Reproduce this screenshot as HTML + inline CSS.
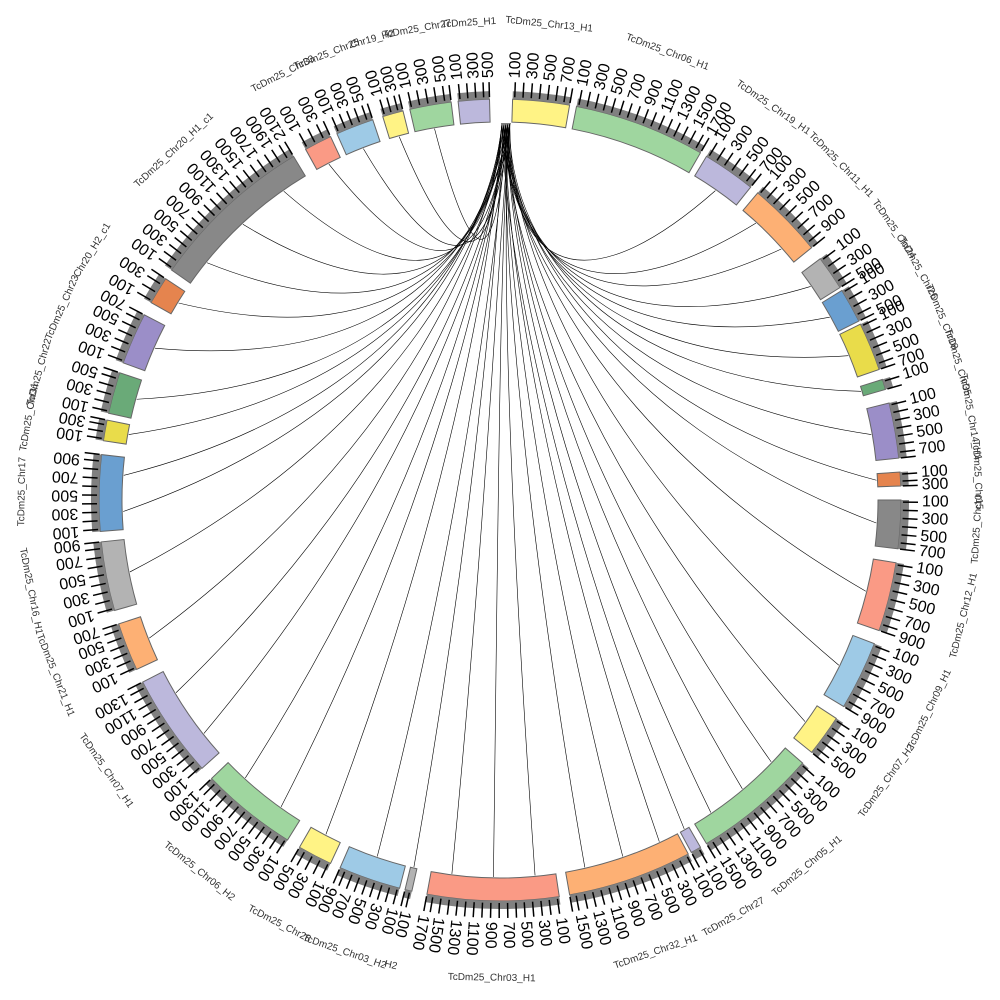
<!DOCTYPE html>
<html><head><meta charset="utf-8"><style>
html,body{margin:0;padding:0;background:#fff;}
svg{display:block;font-family:"Liberation Sans",sans-serif;}
</style></head><body>
<svg id="s" width="1000" height="1000" viewBox="0 0 1000 1000">
<g id="links" fill="none" stroke="#000" stroke-width="0.6"></g>
<g id="segs"></g>
<g id="ticks" stroke="#000" stroke-width="1.5"></g>
<g id="labs" font-size="10" fill="#333"></g>
</svg>
<script>
var NS="http://www.w3.org/2000/svg";
function P(r,a){a=a*Math.PI/180;return [500+r*Math.sin(a),500-r*Math.cos(a)];}
function arc(r1,r2,a1,a2){var p1=P(r2,a1),p2=P(r2,a2),p3=P(r1,a2),p4=P(r1,a1),l=(a2-a1)>180?1:0;
return "M"+p1+"A"+r2+","+r2+" 0 "+l+" 1 "+p2+"L"+p3+"A"+r1+","+r1+" 0 "+l+" 0 "+p4+"Z";}
function el(t,at,par){var e=document.createElementNS(NS,t);for(var k in at)e.setAttribute(k,at[k]);document.getElementById(par).appendChild(e);return e;}
var S=[[1.8,10,"#fff385","TcDm25_Chr13_H1"],[11,30,"#9fd69f","TcDm25_Chr06_H1"],[31,38.7,"#bcb8dc","TcDm25_Chr19_H1"],[40,51,"#fdb074","TcDm25_Chr11_H1"],
[53,58,"#b3b3b3","TcDm25_Chr24"],[58.5,63.5,"#6a9fd0","TcDm25_Chr26"],[64,71,"#e9dc4a","TcDm25_Chr18"],[72.5,74,"#6aaa78","TcDm25_Chr35"],
[76,84,"#9b8ec8","TcDm25_Chr14_H1"],[86,88,"#e5844e","TcDm25_Chr15"],[90,97,"#888888","TcDm25_Chr10"],[99,109,"#fa9a85","TcDm25_Chr12_H1"],
[111,121,"#9ecae6","TcDm25_Chr09_H1"],[123,129,"#fff385","TcDm25_Chr07_H2"],[131,149,"#9fd69f","TcDm25_Chr05_H1"],[150,151.5,"#bcb8dc","TcDm25_Chr27"],
[152,170,"#fdb074","TcDm25_Chr32_H1"],[171.5,190.5,"#fa9a85","TcDm25_Chr03_H1"],[192.7,193.7,"#b3b3b3","H2"],[194.5,203.5,"#9ecae6","TcDm25_Chr03_H2"],
[205,210,"#fff385","TcDm25_Chr28"],[212,226,"#9fd69f","TcDm25_Chr06_H2"],[228,243,"#bcb8dc","TcDm25_Chr07_H1"],[245,252,"#fdb074","TcDm25_Chr21_H1"],
[254,264,"#b3b3b3","TcDm25_Chr16_H1"],[265.5,276.5,"#6a9fd0","TcDm25_Chr17"],[278.5,281.5,"#e9dc4a","TcDm25_Chr31"],[282.5,288.5,"#6aaa78","TcDm25_Chr22"],
[290,297.5,"#9b8ec8","TcDm25_Chr23"],[299.5,303.5,"#e5844e","Chr20_H2_c1"],[305,329,"#888888","TcDm25_Chr20_H1_c1"],[331,335,"#fa9a85","TcDm25_Chr33"],
[336,341.5,"#9ecae6","TcDm25_Chr25"],[343,346,"#fff385","Chr19_H2"],[347,353,"#9fd69f","TcDm25_Chr27"],[354,358.5,"#bcb8dc","TcDm25_H1"]];
S.forEach(function(s,i){
 el("path",{d:arc(378,401,s[0],s[1]),fill:s[2],stroke:"#666","stroke-width":1},"segs");
 el("path",{d:arc(401,409,s[0],s[1]),fill:"#808080"},"segs");
 var n=Math.max(1,Math.round((s[1]-s[0])/1.2));
 for(var j=0;j<=n;j++){var a=s[0]+(s[1]-s[0])*j/n+0.3;if(a>s[1])a=s[1];var p=P(403,a),q=P(418,a);
  el("line",{x1:p[0],y1:p[1],x2:q[0],y2:q[1]},"ticks");
  if(j%2==0){var t=P(422,a),tx=el("text",{x:t[0],y:t[1],"font-size":16,fill:"#000","dominant-baseline":"middle",
   transform:"rotate("+(a-90)+" "+t[0]+" "+t[1]+")"},"labs");tx.textContent=(j*100+100)+"";}
 }
 var m=(s[0]+s[1])/2,lp=P(478,m),rot=m>90&&m<270?m-180:m;
 var t2=el("text",{x:lp[0],y:lp[1],"text-anchor":"middle","dominant-baseline":"middle",transform:"rotate("+rot+" "+lp[0]+" "+lp[1]+")"},"labs");
 t2.textContent=s[3];
 var k=Math.max(1,Math.round((s[1]-s[0])/7));
 if(i>1&&i<35)for(j=0;j<k;j++){var a2=s[0]+(s[1]-s[0])*(j+0.5)/k,src=P(377,a2),tgt=P(377,0.3+((i*7)%5)*0.3);
  var c1=[500+(src[0]-500)*0.25,380+(src[1]-380)*0.25];
  el("path",{d:"M"+src+"C"+c1+" "+(500+(src[0]-500)*0.02)+",230 "+tgt},"links");}
});
</script>
</body></html>
